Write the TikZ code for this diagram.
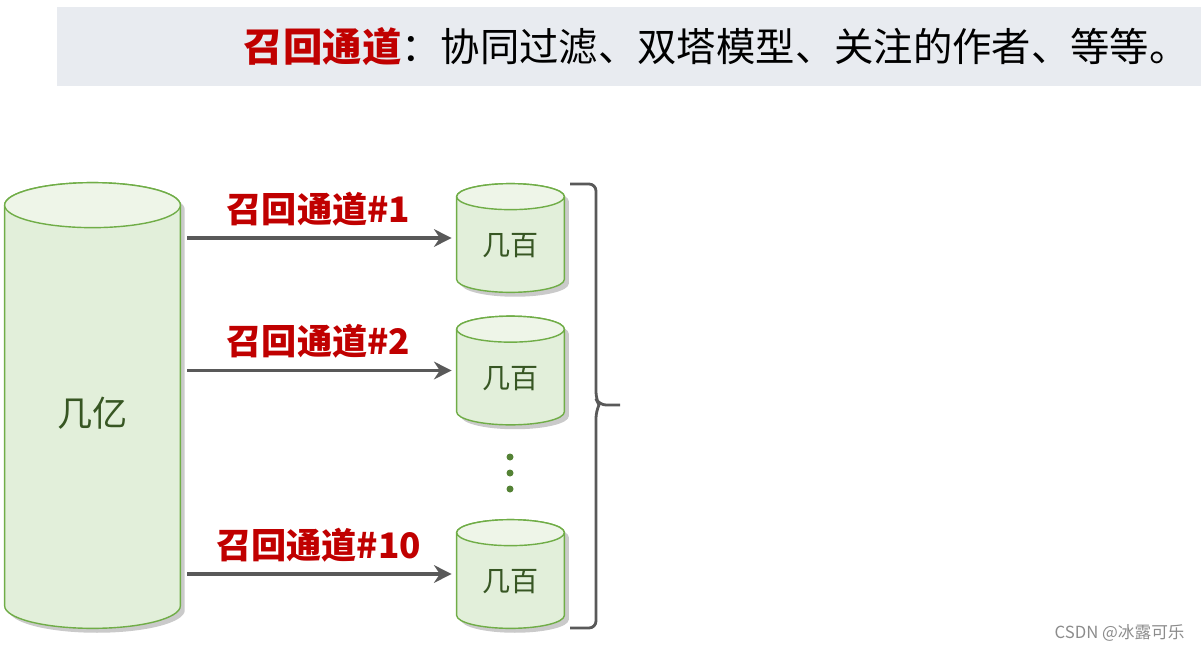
\documentclass[tikz,border=0pt]{standalone}
\usepackage{fontspec}
\newfontfamily\cjk{Noto Sans CJK SC}
\usetikzlibrary{arrows.meta,shadows,calc,backgrounds}
\definecolor{recallred}{HTML}{C00000}
\definecolor{bandgrey}{HTML}{E8EBF0}
\definecolor{cylline}{HTML}{70AD47}
\definecolor{cylbody}{HTML}{E2EFDA}
\definecolor{cyltop}{HTML}{EEF5E8}
\definecolor{cyltext}{HTML}{375623}
\definecolor{dotgreen}{HTML}{548235}
\definecolor{arrowgrey}{HTML}{595959}
% cylinder drawn round node #1, end ellipse y radius #2
\newcommand{\dbshape}[2]{%
  \begin{pgfonlayer}{background}
  \filldraw[dbbody] let \p1=(#1.north west), \p2=(#1.south east), \n1={(\x2-\x1)/2} in
    (\x1,\y1-#2) -- (\x1,\y2+#2) arc[start angle=180, end angle=360, x radius=\n1, y radius=#2]
    -- (\x2,\y1-#2) arc[start angle=0, end angle=180, x radius=\n1, y radius=#2] -- cycle;
  \filldraw[dbtop] let \p1=(#1.north west), \p2=(#1.south east), \n1={(\x2-\x1)/2} in
    (\x1+\n1,\y1-#2) ellipse[x radius=\n1, y radius=#2];
  \end{pgfonlayer}}
\begin{document}
\begin{tikzpicture}[
  db/.style={inner sep=0pt, text=cyltext},
  smalldb/.style={db, minimum width=2.14cm, minimum height=2.16cm, text height=0.8cm, text depth=0.1cm,
    font=\cjk\fontsize{16}{16}\selectfont},
  dbbody/.style={fill=cylbody, draw=cylline, line width=0.8pt,
    drop shadow={shadow xshift=2.5pt, shadow yshift=-2.5pt, opacity=0.35, fill=black!60}},
  dbtop/.style={fill=cyltop, draw=cylline, line width=0.8pt},
  flow/.style={draw=arrowgrey, line width=1.8pt, -{Stealth[length=10pt,width=10pt]}, shorten <=0.14cm, shorten >=0.1cm},
  chan/.style={text=recallred, font=\cjk\bfseries\fontsize{20}{20}\selectfont, above=6pt, inner sep=0pt}
]
\useasboundingbox (0,0) rectangle (24.02,-13.02);
% title band
\node[fill=bandgrey, minimum width=22.88cm, minimum height=1.58cm, inner sep=0pt] (band) at (12.58,-0.93) {};
\node[anchor=east, inner sep=0pt, font=\cjk\fontsize{22.4}{22.4}\selectfont] (title) at (23.78,-0.93)
  {{\color{recallred}\bfseries 召回通道}：协同过滤、双塔模型、关注的作者、等等。};
% all items
\node[db, minimum width=3.5cm, minimum height=8.9cm, text height=0.94cm, text depth=0.1cm,
  font=\cjk\fontsize{20}{20}\selectfont] (all) at (1.85,-8.11) {几亿};
\dbshape{all}{0.45cm}
% recalled items per channel
\node[smalldb] (c1) at (10.21,-4.76) {几百};
\node[smalldb] (c2) at (10.21,-7.41) {几百};
\node[smalldb] (c10) at (10.21,-11.48) {几百};
\foreach \dbname in {c1,c2,c10}
  \dbshape{\dbname}{0.26cm};
\draw[flow] (all.east |- c1.west) -- node[chan] {召回通道\#1} (c1.west);
\draw[flow] (all.east |- c2.west) -- node[chan] {召回通道\#2} (c2.west);
\draw[flow] (all.east |- c10.west) -- node[chan] {召回通道\#10} (c10.west);
\foreach \y in {9.14,9.46,9.78}
  \fill[dotgreen] (10.2,-\y) circle (0.07);
% brace
\draw[arrowgrey, line width=1.6pt, rounded corners=4pt] (11.4,-3.68) -- (11.92,-3.68) -- (11.92,-7.98)
  -- (11.98,-8.1) -- (12.4,-8.1);
\draw[arrowgrey, line width=1.6pt, rounded corners=4pt] (11.4,-12.56) -- (11.92,-12.56) -- (11.92,-8.22)
  -- (11.98,-8.1);
\node[anchor=east, text=black!45, font=\cjk\fontsize{9.5}{9.5}\selectfont, inner sep=0pt] (mark) at (23.7,-12.66) {CSDN @冰露可乐};
\end{tikzpicture}
\end{document}
